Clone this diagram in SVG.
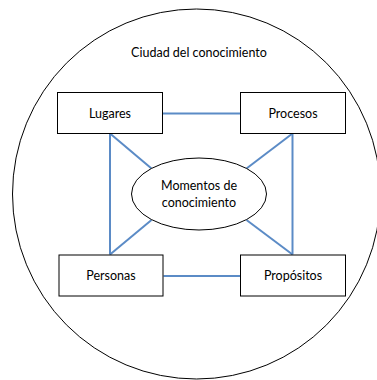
<svg xmlns="http://www.w3.org/2000/svg" width="377" height="380" viewBox="0 0 377 380">
<style>
.box{fill:#fff;stroke:#000;stroke-width:1}
.t{font-family:"Lato","Liberation Sans",sans-serif;font-size:12.5px;fill:#000;text-anchor:middle}
.c{stroke:#5B8BC6;stroke-width:2;fill:none}
</style>
<rect width="377" height="380" fill="#fff"/>
<g id="city">
<ellipse cx="196.5" cy="194" rx="184" ry="185" fill="none" stroke="#000" stroke-width="1"/>
<text class="t" x="199" y="57">Ciudad del conocimiento</text>
</g>
<g id="connectors">
<line class="c" x1="162.5" y1="113.5" x2="240.5" y2="113.5"/>
<line class="c" x1="163.5" y1="276" x2="240.5" y2="276"/>
<line class="c" x1="110" y1="133.5" x2="110" y2="254.5"/>
<line class="c" x1="292.5" y1="133.5" x2="292.5" y2="254.5"/>
<line class="c" x1="110" y1="133.5" x2="151.5" y2="168.5"/>
<line class="c" x1="110" y1="254.5" x2="151.5" y2="220"/>
<line class="c" x1="292.5" y1="133.5" x2="246.5" y2="168.5"/>
<line class="c" x1="292.5" y1="254.5" x2="246.5" y2="220"/>
</g>
<g id="lugares">
<rect class="box" x="57.5" y="92.5" width="105" height="41"/>
<text class="t" x="110" y="118">Lugares</text>
</g>
<g id="procesos">
<rect class="box" x="240.5" y="92.5" width="105" height="41"/>
<text class="t" x="293" y="118">Procesos</text>
</g>
<g id="personas">
<rect class="box" x="59" y="255" width="104" height="41"/>
<text class="t" x="111" y="280">Personas</text>
</g>
<g id="propositos">
<rect class="box" x="240.5" y="255" width="105" height="41"/>
<text class="t" x="293" y="280">Propósitos</text>
</g>
<g id="momentos">
<ellipse cx="199" cy="194" rx="67.5" ry="36" fill="#fff" stroke="#000" stroke-width="1"/>
<text class="t" x="199" y="190">Momentos de</text>
<text class="t" x="199" y="207">conocimiento</text>
</g>
</svg>
